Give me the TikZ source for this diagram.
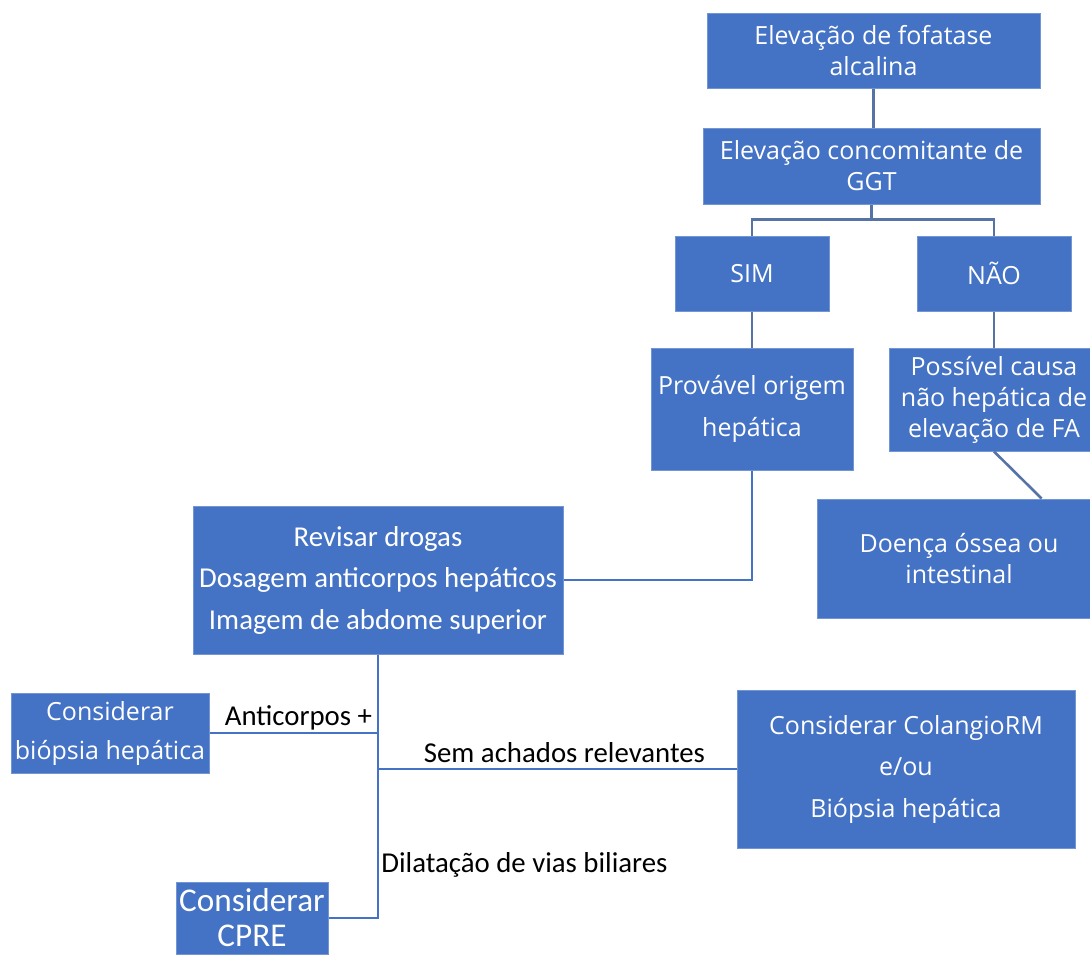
\documentclass[tikz,border=0pt]{standalone}
\usepackage{fontspec}
\usepackage{color}
\usetikzlibrary{positioning}
\newfontfamily\opensans{Open Sans}
\newfontfamily\carlito{Carlito}
\definecolor{boxblue}{HTML}{4472C4}
\definecolor{linkblue}{HTML}{5673A6}

\begin{document}
\begin{tikzpicture}[x=0.5pt, y=-0.5pt,
				box/.style={rectangle, fill=boxblue, draw=boxblue!75!white, line width=0.5pt, inner sep=0pt, align=center, text=white},
				tight/.style={box, font=\opensans\fontsize{12.5}{15.5}\selectfont},
				loose/.style={box, font=\opensans\fontsize{12.5}{20.75}\selectfont},
				calib/.style={box, font=\carlito\fontsize{14.4}{20.75}\selectfont},
				edgetext/.style={rectangle, inner sep=0pt, text=black, font=\carlito\fontsize{14.4}{17}\selectfont}
			]
			\useasboundingbox (0,0) rectangle (1090,954);
			\node[tight, minimum width=166.5pt, minimum height=37.5pt] (alk) at (873.5,50.5) {Elevação de fofatase\\alcalina};
			\node[tight, minimum width=168.5pt, minimum height=38pt] (ggt) [below=19.5pt of alk, xshift=-1pt] {Elevação concomitante de\\GGT};
			\node[tight, minimum width=77pt, minimum height=37.5pt] (sim) at (752,273.5) {SIM};
			\node[tight, minimum width=77pt, minimum height=37.5pt] (nao) at (994,273.5) {NÃO};
			\node[loose, minimum width=101pt, minimum height=61pt] (hep) [below=18pt of sim] {Provável origem\\hepática};
			\node[tight, minimum width=105pt, minimum height=51.5pt] (naohep) [below=18pt of nao] {Possível causa\\não hepática de\\elevação de FA};
			\node[tight, minimum width=142pt, minimum height=59.5pt] (ossea) at (959,558.5) {Doença óssea ou\\intestinal};
			\node[calib, minimum width=185pt, minimum height=74pt] (revisar) at (378,580) {Revisar drogas\\Dosagem anticorpos hepáticos\\Imagem de abdome superior};
			\node[box, font=\opensans\fontsize{12.5}{19.5}\selectfont, minimum width=99pt, minimum height=40pt] (biopsia) at (110,733) {Considerar\\biópsia hepática};
			\node[loose, minimum width=169pt, minimum height=79pt] (colangio) at (906,769) {Considerar ColangioRM\\e/ou\\Biópsia hepática};
			\node[box, font=\carlito\fontsize{16.6}{17.5}\selectfont, minimum width=76pt, minimum height=36pt] (cpre) at (252,918) {Considerar\\CPRE};
			\begin{scope}[linkblue, line width=1.3pt]
			\draw (alk.south) -- (alk.south |- ggt.north);
			\draw (ggt.south) -- ++(0,15) coordinate (fork) -| (sim.north);
			\draw (fork) -| (nao.north);
			\draw (sim.south) -- (hep.north);
			\draw (nao.south) -- (naohep.north);
			\draw (naohep.south) -- (ossea.36);
			\end{scope}
			\begin{scope}[boxblue, line width=1pt]
			\draw (hep.south) |- (revisar.east);
			\draw (revisar.south) -- (revisar.south |- cpre.east) -- (cpre.east);
			\draw (biopsia.east) -- (biopsia.east -| revisar.south) node[edgetext, anchor=base east, xshift=-2.5pt, yshift=4pt] (anti) {Anticorpos +};
			\draw (colangio.west -| revisar.south) -- node[edgetext, pos=0.52, anchor=base, yshift=3.5pt] (sem) {Sem achados relevantes} (colangio.west);
			\end{scope}
			\node[edgetext, anchor=base west] (dilat) at (381,872) {Dilatação de vias biliares};
			\end{tikzpicture}
\end{document}
